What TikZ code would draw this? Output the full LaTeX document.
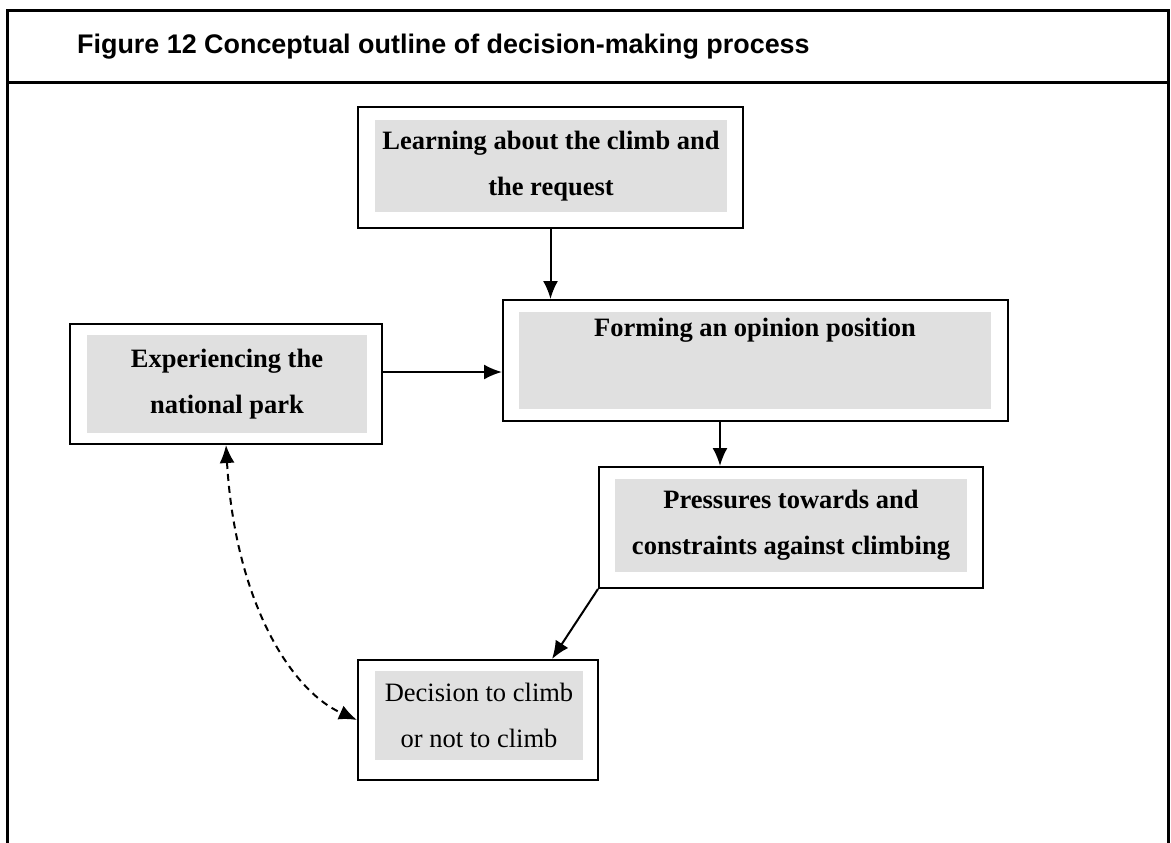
\documentclass[tikz,border=0pt]{standalone}
\usepackage{fontspec}
\setmainfont{Liberation Serif}
\newfontfamily\titlefont{Liberation Sans}
\usetikzlibrary{arrows.meta}

\definecolor{boxgray}{RGB}{224,224,224}

\begin{document}
\begin{tikzpicture}[
    x=1pt, y=-1pt,
    outerbox/.style={rectangle, draw, line width=2pt, inner sep=0pt},
    greybox/.style={rectangle, fill=boxgray, inner sep=0pt, align=center, font=\fontsize{26.5}{46}\selectfont\bfseries},
    plain/.style={font=\fontsize{26.5}{46}\selectfont},
    arrow/.style={-{Latex[length=18pt,width=15pt]}, line width=2pt},
    dasharrow/.style={{Latex[length=18pt,width=15pt]}-{Latex[length=18pt,width=15pt]}, line width=2pt, dash pattern=on 7pt off 5pt}
]
\useasboundingbox (0,0) rectangle (1171,843);

% Frame and title
\draw[line width=3pt] (7,850) -- (7,11) -- (1168,11) -- (1168,850);
\draw[line width=3pt] (7,83) -- (1168,83);
\node[anchor=west, inner sep=0pt, font=\titlefont\fontsize{26.9}{30}\selectfont\bfseries] (title) at (77,47) {Figure 12 Conceptual outline of decision-making process};

% Learning
\node[outerbox, minimum width=385, minimum height=121] (learn) at (550.5,167.5) {};
\node[greybox, minimum width=352, minimum height=92] (learnbg) at (551,166) {Learning about the climb and\\the request};

% Forming
\node[outerbox, minimum width=505, minimum height=121] (form) at (755.5,360.5) {};
\node[greybox, minimum width=472, minimum height=97] (formbg) at (755,360.5) {};
\node[greybox, fill=none, anchor=north] (formtxt) at ([yshift=-6pt]formbg.north) {Forming an opinion position};

% Experiencing
\node[outerbox, minimum width=312, minimum height=120] (exp) at (226,384) {};
\node[greybox, minimum width=280, minimum height=98] (expbg) at (227,384) {Experiencing the\\national park};

% Pressures
\node[outerbox, minimum width=384, minimum height=121] (press) at (791,527.5) {};
\node[greybox, minimum width=352, minimum height=93] (pressbg) at (791,525.5) {Pressures towards and\\constraints against climbing};

% Decision
\node[outerbox, minimum width=240, minimum height=120] (dec) at (478,720) {};
\node[greybox, plain, minimum width=208, minimum height=89] (decbg) at (479,715.5) {Decision to climb\\or not to climb};

% Connectors
\draw[arrow] (learn.south) -- (learn.south |- form.north);
\draw[arrow] ([yshift=12pt]exp.east) -- ([yshift=12pt]exp.east -| form.west);
\draw[arrow] ([xshift=-35.5pt]form.south) -- ([xshift=-35.5pt]form.south |- press.north);
\draw[arrow] (press.south west) -- ([xshift=74pt]dec.north);
\draw[dasharrow] (exp.south) .. controls (235,600) and (290,690) .. (dec.west);

\end{tikzpicture}
\end{document}
